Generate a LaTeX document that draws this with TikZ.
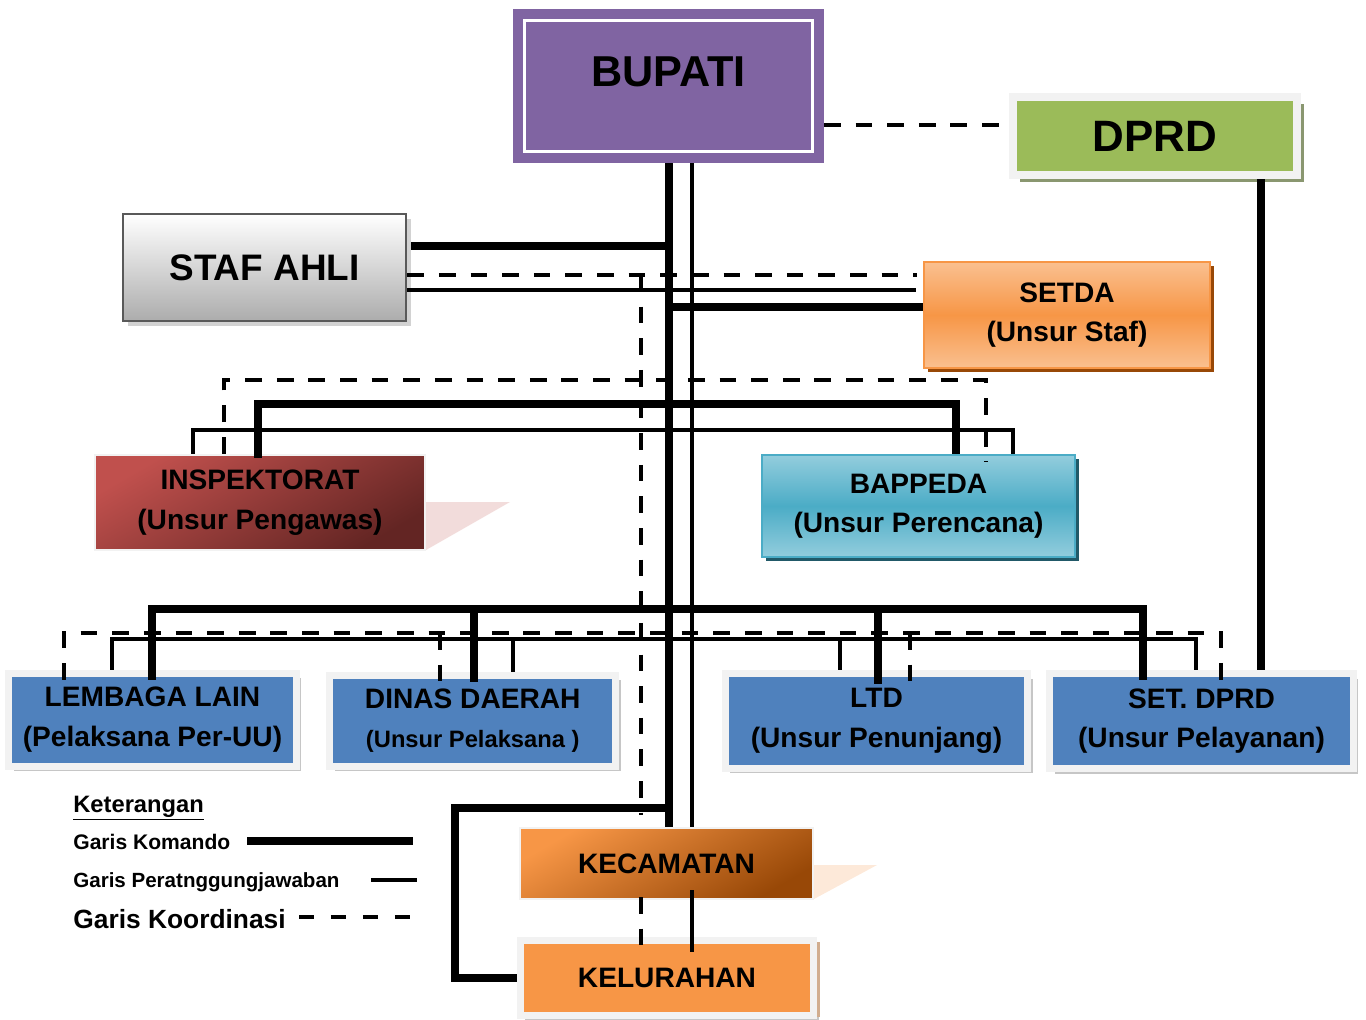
\documentclass[tikz,border=0pt]{standalone}
\usepackage{fontspec}
\setmainfont{Liberation Sans}
\usetikzlibrary{shadows}

\definecolor{ungu}{HTML}{8064A2}
\definecolor{hijau}{HTML}{9BBB59}
\definecolor{bingkai}{HTML}{F2F2F2}
\definecolor{biru}{HTML}{4F81BD}
\definecolor{oranye}{HTML}{F79646}
\definecolor{oranyemuda}{HTML}{FAC090}
\definecolor{cokelat}{HTML}{984807}
\definecolor{merah}{HTML}{C0504D}
\definecolor{merahtua}{HTML}{632523}
\definecolor{merahmuda}{HTML}{F2DCDB}
\definecolor{persik}{HTML}{FDE9D9}
\definecolor{tosca}{HTML}{4BACC6}
\definecolor{toscamuda}{HTML}{93CDDD}
\definecolor{toscatua}{HTML}{215968}

\begin{document}
\begin{tikzpicture}[x=0.02cm, y=-0.02cm]

\tikzset{
  komando/.style={
    line width=4.8pt
  },
  tanggung/.style={
    line width=2.2pt
  },
  koordinasi/.style={
    line width=2.3pt,
    dash pattern=on 9.5pt off 8.5pt
  },
  kotak/.style={
    inner sep=0pt,
    align=center,
    font=\bfseries\fontsize{16}{22.5}\selectfont
  },
  unitbox/.style={
    kotak,
    fill=biru,
    draw=bingkai,
    line width=0.14cm,
    drop shadow={shadow xshift=0.1cm, shadow yshift=-0.1cm, fill=gray!45, opacity=1}
  },
  legenda/.style={
    anchor=base west,
    inner sep=0pt,
    font=\bfseries\fontsize{12}{14}\selectfont
  }
}

\useasboundingbox (0,0) rectangle (1366,1019);

%%%%%%%%%%%%%%%%%%%%%%%%%%%%%%%%%%%%%%%%%%%%%%%%%%%%%%%%%%%%
%% Kotak-kotak
%%%%%%%%%%%%%%%%%%%%%%%%%%%%%%%%%%%%%%%%%%%%%%%%%%%%%%%%%%%%

% Bayangan segitiga
\fill[merahmuda] (426,502) -- (510,502) -- (426,550) -- cycle;
\fill[persik] (814,865) -- (877,865) -- (814,899) -- cycle;

% Bupati
\node[
  kotak,
  fill=ungu,
  draw=ungu,
  line width=0.2cm,
  double=white,
  double distance=0.06cm,
  minimum width=5.76cm,
  minimum height=2.63cm,
  outer sep=0.23cm,
  font=\bfseries\fontsize{24.6}{28}\selectfont
] (bupati) at (668.5,86) {\smash{BUPATI}};

% DPRD
\node[
  kotak,
  fill=hijau,
  draw=bingkai,
  line width=0.16cm,
  minimum width=5.67cm,
  minimum height=1.56cm,
  font=\bfseries\fontsize{25}{30}\selectfont,
  drop shadow={shadow xshift=0.14cm, shadow yshift=-0.14cm, fill=hijau!40!gray, opacity=1}
] (dprd) at (1155,136) {DPRD};

% Staf ahli
\node[
  kotak,
  top color=white,
  bottom color=gray!65,
  draw=gray!70!black,
  line width=1.5pt,
  minimum width=5.66cm,
  minimum height=2.14cm,
  font=\bfseries\fontsize{21}{25}\selectfont,
  drop shadow={shadow xshift=0.1cm, shadow yshift=-0.1cm, fill=gray!35, opacity=1}
] (stafahli) at (264.5,267.5) {STAF AHLI};

% Setda
\node[
  kotak,
  top color=oranyemuda,
  bottom color=oranyemuda,
  middle color=oranye,
  draw=oranye,
  line width=1pt,
  minimum width=5.72cm,
  minimum height=2.12cm,
  drop shadow={shadow xshift=0.08cm, shadow yshift=-0.08cm, fill=cokelat, opacity=1}
] (setda) at (1067,315) {SETDA\\(Unsur Staf)};

% Inspektorat
\node[
  kotak,
  top color=merah,
  bottom color=merahtua,
  shading angle=30,
  draw=bingkai,
  line width=1.5pt,
  minimum width=6.6cm,
  minimum height=1.9cm
] (inspektorat) at (260,502.5) {INSPEKTORAT\\(Unsur Pengawas)};

% Bappeda
\node[
  kotak,
  top color=toscamuda,
  bottom color=toscamuda,
  middle color=tosca,
  draw=tosca,
  line width=1.5pt,
  minimum width=6.26cm,
  minimum height=2.04cm,
  drop shadow={shadow xshift=0.08cm, shadow yshift=-0.08cm, fill=toscatua, opacity=1}
] (bappeda) at (918.5,506) {BAPPEDA\\(Unsur Perencana)};

% Unsur pelaksana dan penunjang
\node[unitbox, minimum width=5.76cm, minimum height=1.86cm]
  (lembaga) at (152.5,719.5) {LEMBAGA LAIN\\(Pelaksana Per-UU)};
\node[unitbox, minimum width=5.73cm, minimum height=1.82cm]
  (dinas) at (472.75,720.5)
  {DINAS DAERAH\\{\fontsize{13.5}{16}\selectfont(Unsur Pelaksana )}};
\node[unitbox, minimum width=6.06cm, minimum height=1.89cm]
  (ltd) at (876.5,721) {LTD\\(Unsur Penunjang)};
\node[unitbox, minimum width=6.08cm, minimum height=1.9cm]
  (setdprd) at (1201.5,721) {SET. DPRD\\(Unsur Pelayanan)};

% Kecamatan dan kelurahan
\node[
  kotak,
  top color=oranye,
  bottom color=cokelat,
  shading angle=30,
  draw=bingkai,
  line width=1pt,
  minimum width=5.86cm,
  minimum height=1.42cm
] (kecamatan) at (666.5,863.5) {KECAMATAN};

\node[
  unitbox,
  fill=oranye,
  minimum width=5.87cm,
  minimum height=1.49cm,
  drop shadow={shadow xshift=0.13cm, shadow yshift=-0.03cm, fill=cokelat!45, opacity=1}
] (kelurahan) at (667,978) {KELURAHAN};

%%%%%%%%%%%%%%%%%%%%%%%%%%%%%%%%%%%%%%%%%%%%%%%%%%%%%%%%%%%%
%% Garis-garis
%%%%%%%%%%%%%%%%%%%%%%%%%%%%%%%%%%%%%%%%%%%%%%%%%%%%%%%%%%%%

% Garis komando
\draw[komando] (bupati.south -| 669,0) -- (kecamatan.north -| 669,0);
\draw[komando, shorten <=0.08cm] (stafahli.east |- 0,246) -- (669,246);
\draw[komando] (setda.west |- 0,307) -- (669,307);
\draw[komando, shorten <=-0.08cm]
  (inspektorat.north -| 258,0) |- (956,404) -- (bappeda.north -| 956,0);
\draw[komando, shorten <=-0.2cm, shorten >=-0.2cm]
  (lembaga.north -| 152,0) |- (1143,609) -- (setdprd.north -| 1143,0);
\draw[komando, shorten >=-0.2cm] (474,609) -- (dinas.north -| 474,0);
\draw[komando, shorten >=-0.28cm] (878,609) -- (ltd.north -| 878,0);
\draw[komando] (669,808) -- (455,808) |- (kelurahan.west);
\draw[komando] (dprd.south -| 1261,0) -- (setdprd.north -| 1261,0);

% Garis pertanggungjawaban
\draw[tanggung] (bupati.south -| 692,0) -- (kecamatan.north -| 692,0);
\draw[tanggung] (692,890) -- (692,952);
\draw[tanggung, shorten >=0.14cm] (stafahli.east |- 0,290) -- (setda.west |- 0,290);
\draw[tanggung]
  (inspektorat.north -| 193,0) |- (1013,430) -- (bappeda.north -| 1013,0);
\draw[tanggung]
  (lembaga.north -| 112,0) |- (1196,639) -- (setdprd.north -| 1196,0);
\draw[tanggung] (513,639) -- (dinas.north -| 513,0);
\draw[tanggung] (840,639) -- (ltd.north -| 840,0);

% Garis koordinasi
\draw[koordinasi] (bupati.east |- 0,125) -- (dprd.west |- 0,125);
\draw[koordinasi, shorten >=0.12cm] (stafahli.east |- 0,275) -- (setda.west |- 0,275);
\draw[koordinasi] (641,275) -- (641,815);
\draw[koordinasi] (641,897) -- (641,948);
\draw[koordinasi, shorten >=-0.16cm]
  (inspektorat.north -| 224,0) |- (986,380) -- (bappeda.north -| 986,0);
\draw[koordinasi, shorten <=-0.2cm, shorten >=-0.2cm]
  (lembaga.north -| 64,0) |- (1221,633) -- (setdprd.north -| 1221,0);
\draw[koordinasi, shorten >=-0.2cm] (440,633) -- (dinas.north -| 440,0);
\draw[koordinasi, shorten >=-0.3cm] (910,633) -- (ltd.north -| 910,0);

%%%%%%%%%%%%%%%%%%%%%%%%%%%%%%%%%%%%%%%%%%%%%%%%%%%%%%%%%%%%
%% Keterangan
%%%%%%%%%%%%%%%%%%%%%%%%%%%%%%%%%%%%%%%%%%%%%%%%%%%%%%%%%%%%
\node[legenda, font=\bfseries\fontsize{13.5}{16}\selectfont]
  (ket) at (73,812) {\underline{Keterangan}};
\node[legenda] (legkom) at (73,849) {Garis Komando};
\node[legenda, font=\bfseries\fontsize{11.7}{14}\selectfont]
  (legtgj) at (73,887) {Garis Peratnggungjawaban};
\node[legenda, font=\bfseries\fontsize{15}{18}\selectfont]
  (legkor) at (73,928) {Garis Koordinasi};

\draw[komando, line width=5pt] (247,841) -- (413,841);
\draw[tanggung] (371,880) -- (417,880);
\draw[koordinasi, dash pattern=on 0.3cm off 0.34cm] (299,917) -- (417,917);

\end{tikzpicture}
\end{document}
